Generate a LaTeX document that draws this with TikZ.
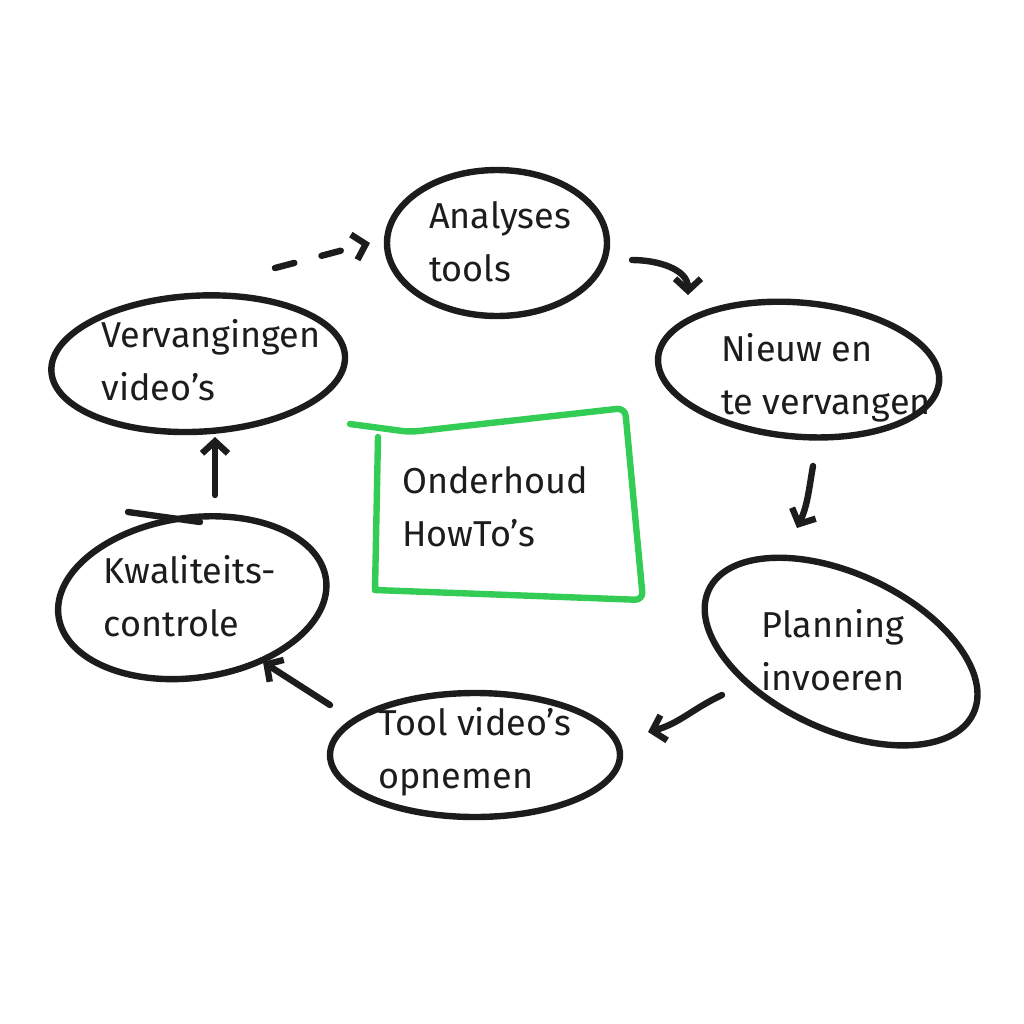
\documentclass[tikz,border=0pt]{standalone}
\usepackage{fontspec}
\setmainfont{Fira Sans}
\usetikzlibrary{arrows.meta}
\definecolor{ink}{HTML}{1C1C1C}
\definecolor{marker}{HTML}{33CC55}
\begin{document}
\begin{tikzpicture}[x=0.5pt, y=-0.5pt,
    label/.style={align=left, inner sep=0pt, text=ink, font=\fontsize{18}{26.5}\selectfont},
    blob/.style={draw=ink, line width=3.2pt, line cap=round},
    flow/.style={draw=ink, line width=3.2pt, line cap=round, -{Straight Barb[length=6pt, width=13pt]}}]
    \useasboundingbox (0,0) rectangle (1024,1024);
    % stages
    \node [label] (ana) at (500,242) {Analyses\\tools};
    \node [label] (nieuw) at (826,378) {Nieuw en\\te vervangen};
    \node [label] (plan) at (833,650) {Planning\\invoeren};
    \node [label] (tool) at (475,752) {Tool video's\\opnemen};
    \node [label] (kwal) at (190,596) {Kwaliteits-\\controle};
    \node [label] (verv) at (211,360) {Vervangingen\\video's};
    \node [label] (core) at (495,507) {Onderhoud\\HowTo's};
    % outlines
    \draw [blob] ([shift={(-3,1)}]ana.center) ellipse [x radius=110, y radius=73];
    \draw [blob, rotate around={-5:(nieuw)}] ([shift={(-28,-6)}]nieuw.center) ellipse [x radius=141, y radius=67];
    \draw [blob, rotate around={-25:(plan)}] ([shift={(8,-2)}]plan.center) ellipse [x radius=146, y radius=78];
    \draw [blob] ([shift={(0,3)}]tool.center) ellipse [x radius=145, y radius=62];
    \draw [blob, rotate around={8:(kwal)}] ([shift={(2,2)}]kwal.center) ellipse [x radius=135, y radius=80];
    \draw [blob] ([shift={(-62,-84)}]kwal.center) -- ++(72,10);
    \draw [blob, rotate around={3:(verv)}] ([shift={(-13,3)}]verv.center) ellipse [x radius=147, y radius=68];
    \draw [draw=marker, line width=3.2pt, line cap=round, line join=round, rounded corners=4pt]
        ([shift={(-145,-83)}]core.center) -- ++(60,8) -- ++(215,-24) -- ++(18,192) -- ++(-268,-10);
    \draw [draw=marker, line width=3.2pt, line cap=round]
        ([shift={(-117,-70)}]core.center) -- ++(-3,153);
    % connectors
    \draw [flow, dash pattern=on 10pt off 14pt] ([shift={(64,-92)}]verv.center) -- ([shift={(-130,1)}]ana.center);
    \draw [flow] ([shift={(132,18)}]ana.center) to [out=0, in=90] ([shift={(-138,-83)}]nieuw.center);
    \draw [flow] ([shift={(-13,88)}]nieuw.center) to [out=-100, in=65] ([shift={(-36,-122)}]plan.center);
    \draw [flow] ([shift={(-111,45)}]plan.center) to [out=205, in=15] ([shift={(173,-20)}]tool.center);
    \draw [flow] ([shift={(-145,-47)}]tool.center) -- ([shift={(73,66)}]kwal.center);
    \draw [flow] ([shift={(25,-101)}]kwal.center) -- ([shift={(4,77)}]verv.center);
\end{tikzpicture}
\end{document}
